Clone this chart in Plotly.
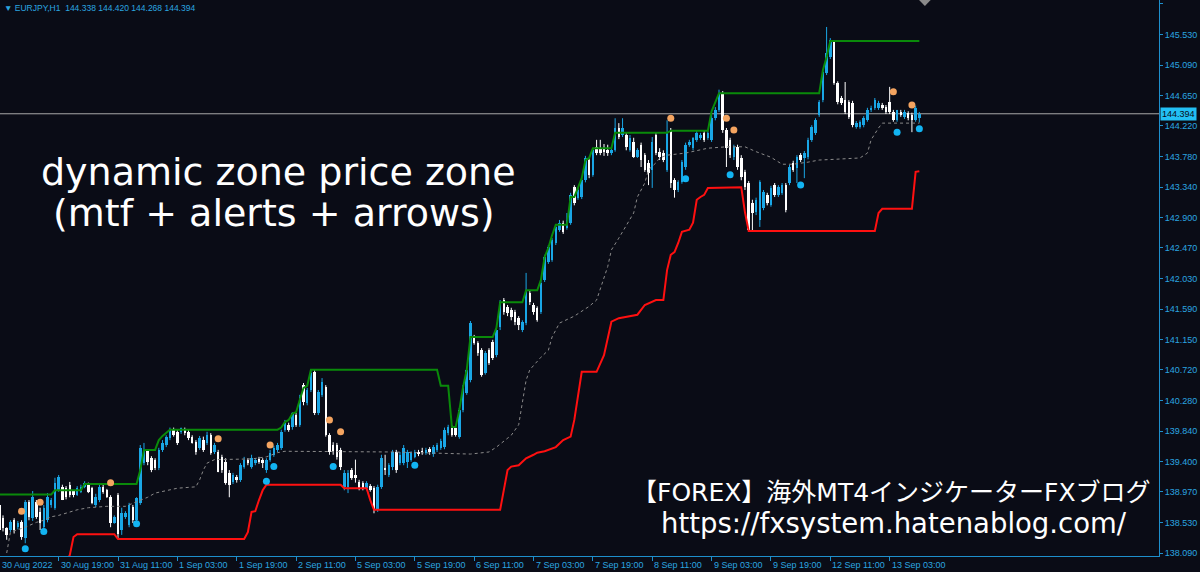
import plotly.graph_objects as go

# ---------------- data (EURJPY H1) ----------------
opens = [
    138.78, 138.59, 138.45, 138.42, 138.56, 138.46, 138.53, 138.30, 138.82, 138.59,
    138.82, 138.68, 138.46, 138.56, 138.78, 138.74, 138.99, 139.04, 139.02, 139.07,
    138.98, 138.92, 138.97, 139.04, 139.07, 139.02, 138.78, 138.85, 139.04, 138.99,
    138.89, 138.52, 138.92, 138.42, 138.61, 138.49, 138.75, 138.56, 138.81, 139.38,
    139.57, 139.45, 139.43, 139.31, 139.57, 139.64, 139.74, 139.86, 139.83, 139.83,
    139.86, 139.83, 139.76, 139.68, 139.60, 139.71, 139.67, 139.78, 139.54, 139.54,
    139.47, 139.40, 139.24, 139.11, 139.18, 139.14, 139.33, 139.43, 139.33, 139.38,
    139.44, 139.43, 139.28, 139.43, 139.50, 139.57, 139.60, 139.86, 139.93, 139.90,
    140.07, 139.93, 140.50, 140.24, 140.43, 140.69, 140.10, 140.36, 140.47, 139.78,
    139.64, 139.64, 139.57, 139.04, 139.04, 139.28, 139.21, 139.11, 139.10, 139.02,
    139.05, 139.02, 138.71, 139.04, 139.31, 139.21, 139.33, 139.54, 139.38, 139.38,
    139.40, 139.43, 139.47, 139.54, 139.55, 139.53, 139.58, 139.51, 139.57, 139.60,
    139.61, 139.81, 139.89, 139.89, 139.76, 140.14, 140.39, 140.57, 141.19, 141.10,
    141.00, 140.67, 141.00, 141.12, 140.93, 141.33, 141.72, 141.62, 141.58, 141.55,
    141.46, 141.29, 141.39, 141.82, 141.65, 141.61, 141.55, 142.01, 142.27, 142.30,
    142.54, 142.73, 142.83, 142.76, 142.83, 143.34, 143.19, 143.20, 143.44, 143.73,
    143.52, 143.92, 143.90, 143.90, 143.87, 143.83, 143.87, 144.19, 144.09, 144.09,
    143.87, 143.99, 143.77, 143.95, 143.80, 143.69, 143.59, 144.09, 143.85, 143.83,
    143.59, 144.16, 143.44, 143.30, 143.41, 143.63, 143.95, 143.90, 144.02, 144.05,
    144.12, 144.05, 144.02, 144.33, 144.45, 144.69, 144.16, 144.02, 143.77, 143.92,
    143.76, 143.56, 143.40, 143.11, 142.98, 142.87, 143.04, 143.23, 143.08, 143.37,
    143.23, 143.26, 143.37, 143.40, 143.69, 143.62, 143.80, 143.76, 143.77, 144.02,
    144.12, 144.38, 144.59, 144.98, 145.21, 145.42, 144.84, 144.62, 144.59, 144.56,
    144.55, 144.20, 144.20, 144.23, 144.30, 144.45, 144.48, 144.48, 144.52, 144.49,
    144.56, 144.42, 144.30, 144.42, 144.35, 144.41, 144.38, 144.30, 144.338,
]
highs = [
    138.85, 138.63, 138.46, 138.56, 138.59, 138.55, 138.56, 138.85, 138.85, 138.98,
    138.85, 138.74, 138.78, 138.95, 138.88, 139.17, 139.21, 139.07, 139.05, 139.11,
    138.99, 139.05, 139.07, 139.12, 139.10, 139.04, 138.94, 139.07, 139.07, 139.01,
    138.92, 138.63, 138.95, 138.74, 138.69, 138.81, 138.78, 138.89, 139.64, 139.67,
    139.58, 139.48, 139.45, 139.60, 139.71, 139.78, 139.89, 139.89, 139.86, 139.89,
    139.89, 139.86, 139.78, 139.71, 139.77, 139.76, 139.83, 139.81, 139.67, 139.57,
    139.50, 139.45, 139.28, 139.24, 139.21, 139.38, 139.47, 139.45, 139.50, 139.45,
    139.47, 139.45, 139.45, 139.57, 139.63, 139.67, 139.86, 140.00, 139.96, 140.11,
    140.10, 140.36, 140.53, 140.46, 140.72, 140.72, 140.43, 140.60, 140.50, 139.81,
    139.68, 139.67, 139.60, 139.28, 139.28, 139.31, 139.43, 139.14, 139.12, 139.12,
    139.08, 139.05, 139.07, 139.50, 139.50, 139.38, 139.57, 139.57, 139.54, 139.64,
    139.57, 139.55, 139.57, 139.57, 139.60, 139.60, 139.61, 139.64, 139.67, 139.73,
    139.89, 139.93, 139.92, 139.92, 140.17, 140.50, 140.75, 141.42, 141.22, 141.13,
    141.03, 140.99, 141.03, 141.15, 141.32, 141.72, 141.75, 141.65, 141.61, 141.58,
    141.49, 141.43, 142.11, 141.86, 141.68, 141.63, 142.01, 142.37, 142.51, 142.61,
    142.80, 142.87, 142.86, 142.97, 143.26, 143.37, 143.33, 143.47, 143.79, 143.76,
    143.90, 144.02, 144.02, 143.96, 143.95, 143.90, 144.33, 144.26, 144.33, 144.12,
    144.09, 144.05, 143.90, 143.98, 143.83, 143.73, 144.06, 144.12, 143.90, 143.87,
    144.30, 144.19, 143.47, 143.44, 143.73, 143.98, 144.02, 144.06, 144.15, 144.12,
    144.16, 144.15, 144.38, 144.49, 144.74, 144.72, 144.19, 144.05, 143.95, 143.95,
    143.80, 143.59, 143.43, 143.16, 143.19, 143.44, 143.30, 143.26, 143.36, 143.40,
    143.37, 143.40, 143.40, 143.66, 143.72, 143.80, 143.83, 143.86, 144.05, 144.23,
    144.33, 144.59, 145.02, 145.64, 145.48, 145.45, 144.86, 144.65, 144.85, 144.59,
    144.58, 144.29, 144.30, 144.36, 144.48, 144.51, 144.62, 144.58, 144.55, 144.52,
    144.78, 144.45, 144.45, 144.45, 144.45, 144.43, 144.41, 144.51, 144.420,
]
lows = [
    138.37, 138.40, 138.28, 138.39, 138.37, 138.43, 138.28, 138.23, 138.56, 138.55,
    138.58, 138.42, 138.39, 138.53, 138.74, 138.71, 138.97, 138.85, 138.86, 138.89,
    138.89, 138.91, 138.95, 139.02, 138.95, 138.79, 138.75, 138.82, 138.94, 138.88,
    138.46, 138.51, 138.29, 138.35, 138.58, 138.46, 138.52, 138.53, 138.78, 139.35,
    139.35, 139.25, 139.28, 139.28, 139.54, 139.61, 139.71, 139.76, 139.64, 139.80,
    139.78, 139.71, 139.66, 139.50, 139.57, 139.54, 139.64, 139.50, 139.51, 139.25,
    139.24, 139.07, 138.89, 139.08, 139.10, 139.11, 139.30, 139.35, 139.30, 139.35,
    139.37, 139.31, 139.24, 139.40, 139.47, 139.54, 139.57, 139.83, 139.83, 139.86,
    139.90, 139.90, 140.21, 140.21, 140.40, 140.07, 140.07, 140.33, 139.76, 139.50,
    139.50, 139.43, 139.28, 138.99, 138.95, 139.14, 139.10, 138.99, 138.99, 138.99,
    138.97, 138.66, 138.68, 139.01, 139.21, 139.18, 139.28, 139.24, 139.35, 139.35,
    139.31, 139.40, 139.45, 139.48, 139.50, 139.50, 139.50, 139.47, 139.54, 139.57,
    139.58, 139.78, 139.76, 139.76, 139.73, 140.11, 140.36, 140.54, 141.08, 140.92,
    140.62, 140.65, 140.79, 140.86, 140.90, 141.29, 141.51, 141.49, 141.43, 141.36,
    141.29, 141.26, 141.36, 141.65, 141.51, 141.41, 141.52, 141.98, 142.24, 142.27,
    142.51, 142.70, 142.67, 142.73, 142.80, 143.08, 143.16, 143.17, 143.41, 143.47,
    143.49, 143.80, 143.80, 143.79, 143.79, 143.80, 143.85, 144.03, 144.06, 143.87,
    143.85, 143.76, 143.76, 143.63, 143.56, 143.37, 143.33, 143.80, 143.73, 143.70,
    143.56, 143.33, 143.19, 143.27, 143.39, 143.59, 143.92, 143.87, 143.99, 144.02,
    143.99, 144.02, 143.99, 144.30, 144.42, 144.12, 143.63, 143.76, 143.73, 143.59,
    143.44, 143.30, 142.71, 142.70, 142.94, 142.77, 143.01, 143.08, 143.06, 143.20,
    143.20, 143.23, 142.98, 143.37, 143.56, 143.40, 143.70, 143.47, 143.74, 143.99,
    144.09, 144.35, 144.56, 144.95, 145.18, 144.81, 144.53, 144.52, 144.39, 144.32,
    144.20, 144.18, 144.18, 144.20, 144.28, 144.42, 144.45, 144.45, 144.45, 144.39,
    144.39, 144.28, 144.28, 144.35, 144.32, 144.30, 144.13, 144.28, 144.268,
]
closes = [
    138.42, 138.45, 138.35, 138.53, 138.42, 138.52, 138.32, 138.82, 138.61, 138.89,
    138.61, 138.52, 138.74, 138.89, 138.85, 139.10, 139.18, 138.85, 138.89, 138.92,
    138.92, 139.02, 139.04, 139.10, 138.97, 138.81, 138.89, 139.04, 138.97, 138.89,
    138.52, 138.61, 138.37, 138.66, 138.66, 138.78, 138.56, 138.88, 139.60, 139.57,
    139.40, 139.28, 139.31, 139.57, 139.67, 139.76, 139.86, 139.78, 139.67, 139.88,
    139.81, 139.74, 139.67, 139.54, 139.74, 139.57, 139.78, 139.53, 139.64, 139.25,
    139.28, 139.10, 139.07, 139.21, 139.14, 139.35, 139.43, 139.38, 139.45, 139.43,
    139.40, 139.38, 139.43, 139.53, 139.60, 139.64, 139.83, 139.96, 139.86, 140.10,
    139.93, 140.33, 140.26, 140.43, 140.67, 140.10, 140.40, 140.54, 139.78, 139.54,
    139.54, 139.47, 139.33, 139.24, 139.24, 139.17, 139.17, 139.02, 139.02, 139.10,
    138.99, 138.71, 139.04, 139.45, 139.28, 139.35, 139.54, 139.28, 139.50, 139.60,
    139.54, 139.53, 139.54, 139.51, 139.54, 139.57, 139.54, 139.61, 139.64, 139.70,
    139.86, 139.90, 139.78, 139.78, 140.14, 140.47, 140.72, 141.39, 141.10, 140.96,
    140.65, 140.96, 140.82, 140.89, 141.29, 141.69, 141.55, 141.53, 141.48, 141.41,
    141.36, 141.41, 141.86, 141.69, 141.55, 141.43, 141.96, 142.34, 142.48, 142.58,
    142.77, 142.83, 142.70, 142.87, 143.23, 143.11, 143.30, 143.44, 143.76, 143.52,
    143.87, 143.83, 143.83, 143.85, 143.83, 143.87, 144.19, 144.06, 144.19, 143.92,
    144.05, 143.77, 143.87, 143.73, 143.59, 143.54, 143.99, 143.83, 143.77, 143.73,
    144.13, 143.40, 143.30, 143.41, 143.70, 143.95, 143.99, 144.05, 144.12, 144.09,
    144.02, 144.12, 144.33, 144.45, 144.69, 144.16, 143.90, 143.80, 143.92, 143.63,
    143.49, 143.34, 142.73, 142.97, 143.16, 143.41, 143.27, 143.11, 143.33, 143.23,
    143.34, 143.37, 143.01, 143.63, 143.59, 143.77, 143.73, 143.83, 144.02, 144.20,
    144.30, 144.56, 144.99, 145.27, 145.45, 144.84, 144.56, 144.55, 144.42, 144.35,
    144.23, 144.26, 144.28, 144.33, 144.45, 144.48, 144.59, 144.55, 144.48, 144.42,
    144.42, 144.30, 144.45, 144.38, 144.42, 144.33, 144.30, 144.48, 144.394,
]

# indicator lines (bar index, price) read at their turning points
upper_bars = [0, 14, 15, 22, 23, 37, 38, 39, 42, 43, 44, 45, 46, 75, 76, 77, 78, 79, 80, 81,
              82, 83, 84, 118, 119, 121, 122, 123, 124, 125, 126, 127, 133, 134, 135, 141,
              142, 145, 146, 147, 148, 149, 150, 153, 154, 155, 156, 157, 158, 159, 160,
              165, 166, 180, 181, 191, 192, 193, 194, 221, 222, 223, 224, 248]
upper_vals = [138.93, 138.93, 138.99, 138.99, 139.08, 139.08, 139.28, 139.57, 139.57, 139.71,
              139.77, 139.81, 139.86, 139.86, 139.89, 139.97, 140.00, 140.09, 140.11, 140.29,
              140.46, 140.49, 140.72, 140.72, 140.49, 140.49, 139.90, 139.90, 140.14, 140.47,
              140.72, 141.19, 141.19, 141.32, 141.69, 141.69, 141.86, 141.86, 142.01, 142.34,
              142.47, 142.65, 142.80, 142.80, 143.20, 143.20, 143.33, 143.47, 143.73, 143.76,
              143.90, 143.90, 144.12, 144.12, 144.15, 144.15, 144.43, 144.56, 144.69, 144.69,
              145.02, 145.21, 145.44, 145.44]

lower_bars = [18, 19, 20, 21, 31, 32, 66, 67, 68, 69, 70, 71, 72, 92, 93, 99, 100, 101, 135,
              136, 137, 138, 140, 141, 142, 144, 145, 147, 150, 152, 154, 155, 156, 157, 161,
              163, 165, 167, 172, 174, 177, 179, 180, 181, 182, 183, 184, 186, 187, 188, 189,
              190, 191, 200, 201, 202, 236, 237, 238, 246, 247, 248]
lower_vals = [137.96, 138.06, 138.32, 138.36, 138.36, 138.29, 138.29, 138.39, 138.68, 138.69,
              138.85, 138.99, 139.07, 139.07, 139.02, 139.02, 138.85, 138.71, 138.71, 138.99,
              139.28, 139.33, 139.35, 139.40, 139.45, 139.50, 139.53, 139.55, 139.61, 139.71,
              139.76, 140.00, 140.36, 140.69, 140.69, 140.93, 141.41, 141.46, 141.51, 141.65,
              141.72, 141.72, 142.15, 142.37, 142.41, 142.54, 142.70, 142.73, 142.83, 143.16,
              143.20, 143.23, 143.33, 143.34, 142.98, 142.71, 142.71, 142.97, 143.03, 143.03,
              143.56, 143.57]

mid_bars = [2, 3, 7, 10, 12, 14, 16, 18, 21, 24, 26, 29, 34, 37, 40, 42, 45, 48, 53, 54, 55,
            56, 58, 63, 68, 72, 75, 77, 90, 106, 127, 132, 134, 138, 140, 142, 143, 146, 148,
            149, 151, 155, 159, 161, 164, 165, 167, 169, 171, 172, 174, 175, 177, 178, 180,
            185, 188, 191, 196, 201, 204, 208, 211, 214, 218, 221, 225, 232, 234, 235, 237,
            238, 248]
mid_vals = [138.09, 138.39, 138.46, 138.53, 138.56, 138.61, 138.63, 138.66, 138.71, 138.74,
            138.75, 138.76, 138.76, 138.82, 138.89, 138.95, 138.99, 139.02, 139.04, 139.14,
            139.28, 139.38, 139.43, 139.44, 139.44, 139.47, 139.53, 139.55, 139.55, 139.54,
            139.51, 139.54, 139.61, 139.78, 139.93, 140.57, 140.72, 140.90, 141.00, 141.19,
            141.39, 141.49, 141.63, 141.72, 142.20, 142.44, 142.61, 142.80, 142.97, 143.20,
            143.40, 143.59, 143.69, 143.76, 143.80, 143.83, 143.87, 143.90, 143.92, 143.92,
            143.85, 143.77, 143.67, 143.67, 143.70, 143.73, 143.74, 143.76, 143.83, 144.02,
            144.19, 144.26, 144.26]

sell_bars = [6, 11, 30, 59, 73, 89, 92, 181, 196, 198, 241, 246]
sell_vals = [138.69, 138.82, 139.10, 139.73, 139.64, 140.00, 139.83, 144.33, 144.33, 144.16,
             144.71, 144.52]
buy_bars = [7, 12, 37, 72, 74, 90, 112, 185, 197, 216, 242, 248]
buy_vals = [138.15, 138.40, 138.51, 139.12, 139.33, 139.33, 139.35, 143.46, 143.52, 143.37,
            144.13, 144.18]

price_ticks = [138.090, 138.530, 138.970, 139.400, 139.840, 140.280, 140.720, 141.150,
               141.590, 142.030, 142.470, 142.900, 143.340, 143.780, 144.220, 144.650,
               145.090, 145.530, 145.970]
time_labels = ["30 Aug 2022", "30 Aug 19:00", "31 Aug 11:00", "1 Sep 03:00", "1 Sep 19:00",
               "2 Sep 11:00", "5 Sep 03:00", "5 Sep 19:00", "6 Sep 11:00", "7 Sep 03:00",
               "7 Sep 19:00", "8 Sep 11:00", "9 Sep 03:00", "9 Sep 19:00", "12 Sep 11:00",
               "13 Sep 03:00"]
bars_per_label = 16
last_price = 144.394
header = "EURJPY,H1\u00a0\u00a0144.338 144.420 144.268 144.394"

# ---------------- styling ----------------
BG = "#0a0c16"
AXIS = "#1e8fcc"
TXT = "#2aa6e0"
UP = "#1aa7e6"
DOWN = "#ffffff"
X_RANGE = [0.19, 312.6]

assert len(opens) == len(highs) == len(lows) == len(closes)
n = len(closes)
idx = list(range(n))

fig = go.Figure()

# wicks
for col, is_up in ((UP, True), (DOWN, False)):
    wx, wy = [], []
    for i in idx:
        if (closes[i] >= opens[i]) == is_up:
            wx += [i, i, None]
            wy += [lows[i], highs[i], None]
    fig.add_trace(go.Scatter(x=wx, y=wy, mode="lines", line=dict(color=col, width=1),
                             hoverinfo="skip", showlegend=False))

# bodies
fig.add_trace(go.Bar(
    x=idx,
    y=[max(abs(c - o), 0.006) for o, c in zip(opens, closes)],
    base=[min(o, c) for o, c in zip(opens, closes)],
    width=0.68,
    marker=dict(color=[UP if c >= o else DOWN for o, c in zip(opens, closes)], line=dict(width=0)),
    showlegend=False, hoverinfo="skip",
))

fig.add_trace(go.Scatter(x=mid_bars, y=mid_vals, mode="lines",
                         line=dict(color="#8a8a8a", width=1, dash="dot"), showlegend=False))
fig.add_trace(go.Scatter(x=upper_bars, y=upper_vals, mode="lines",
                         line=dict(color="#0a8a0a", width=2), showlegend=False))
fig.add_trace(go.Scatter(x=lower_bars, y=lower_vals, mode="lines",
                         line=dict(color="#ff1010", width=2), showlegend=False))
fig.add_trace(go.Scatter(x=sell_bars, y=sell_vals, mode="markers",
                         marker=dict(color="#f4a460", size=7), showlegend=False))
fig.add_trace(go.Scatter(x=buy_bars, y=buy_vals, mode="markers",
                         marker=dict(color="#12b4f2", size=7), showlegend=False))

annotations = []
for k, lab in enumerate(time_labels):
    annotations.append(dict(x=max(k * bars_per_label, X_RANGE[0]), y=0, xref="x", yref="paper",
                            text=lab, showarrow=False, xanchor="left", yanchor="top",
                            yshift=-2, xshift=0,
                            font=dict(family="Liberation Sans", size=9, color=TXT)))
annotations += [
    dict(x=0, y=1, xref="paper", yref="paper", text="\u25bc\u00a0" + header, showarrow=False,
         xanchor="left", yanchor="top", xshift=2, yshift=-1,
         font=dict(family="Liberation Sans", size=8.5, color=TXT)),
    dict(x=1, y=last_price, xref="paper", yref="y", text=str(last_price), showarrow=False,
         xanchor="left", yanchor="middle", xshift=1, bgcolor="#22c0f5", borderpad=1,
         font=dict(family="Liberation Sans", size=9, color="#0a0c16")),
    dict(x=0.2399, y=0.6906, xref="paper", yref="paper", text="dynamic zone price zone",
         xanchor="center", yanchor="middle",
         showarrow=False, font=dict(family="DejaVu Sans", size=38, color="#ffffff")),
    dict(x=0.236, y=0.617, xref="paper", yref="paper", text="(mtf + alerts + arrows)",
         xanchor="center", yanchor="middle",
         showarrow=False, font=dict(family="DejaVu Sans", size=38, color="#ffffff")),
    dict(x=0.7688, y=0.115, xref="paper", yref="paper", text="【FOREX】海外MT4インジケーターFXブログ",
         xanchor="center", yanchor="middle",
         showarrow=False, font=dict(family="DejaVu Sans, Noto Sans CJK JP", size=25, color="#ffffff")),
    dict(x=0.7713, y=0.0594, xref="paper", yref="paper", text="https://fxsystem.hatenablog.com/",
         xanchor="center", yanchor="middle",
         showarrow=False, font=dict(family="DejaVu Sans", size=27.5, color="#ffffff")),
]

shapes = [
    dict(type="line", xref="paper", yref="y", x0=0, x1=1, y0=last_price, y1=last_price,
         line=dict(color="#a8a8a8", width=1), layer="below"),
    dict(type="path", xref="paper", yref="paper",
         path="M 0.793 1 L 0.803 1 L 0.798 0.989 Z", fillcolor="#8a8a8a", line=dict(width=0)),
]

fig.update_layout(
    width=1200, height=572,
    paper_bgcolor=BG, plot_bgcolor=BG,
    margin=dict(l=0, r=41, t=0, b=16, autoexpand=False),
    bargap=0, showlegend=False,
    xaxis=dict(range=X_RANGE, showgrid=False, zeroline=False, showline=True,
               linecolor=AXIS, linewidth=1, ticks="outside", ticklen=4, tickcolor=AXIS,
               tickvals=[k * bars_per_label for k in range(1, len(time_labels))],
               showticklabels=False, fixedrange=True),
    yaxis=dict(range=[138.047, 146.027], side="right", showgrid=False, zeroline=False,
               showline=True, linecolor=AXIS, linewidth=1, ticks="outside", ticklen=3,
               tickcolor=AXIS, tickvals=price_ticks,
               ticktext=[f"{v:.3f}" for v in price_ticks],
               tickfont=dict(family="Liberation Sans", size=9, color=TXT), fixedrange=True),
    annotations=annotations, shapes=shapes,
)

fig.write_html("out.html", config={"displayModeBar": False},
               post_script="document.body.style.margin='0';document.body.style.background='%s';" % BG)
